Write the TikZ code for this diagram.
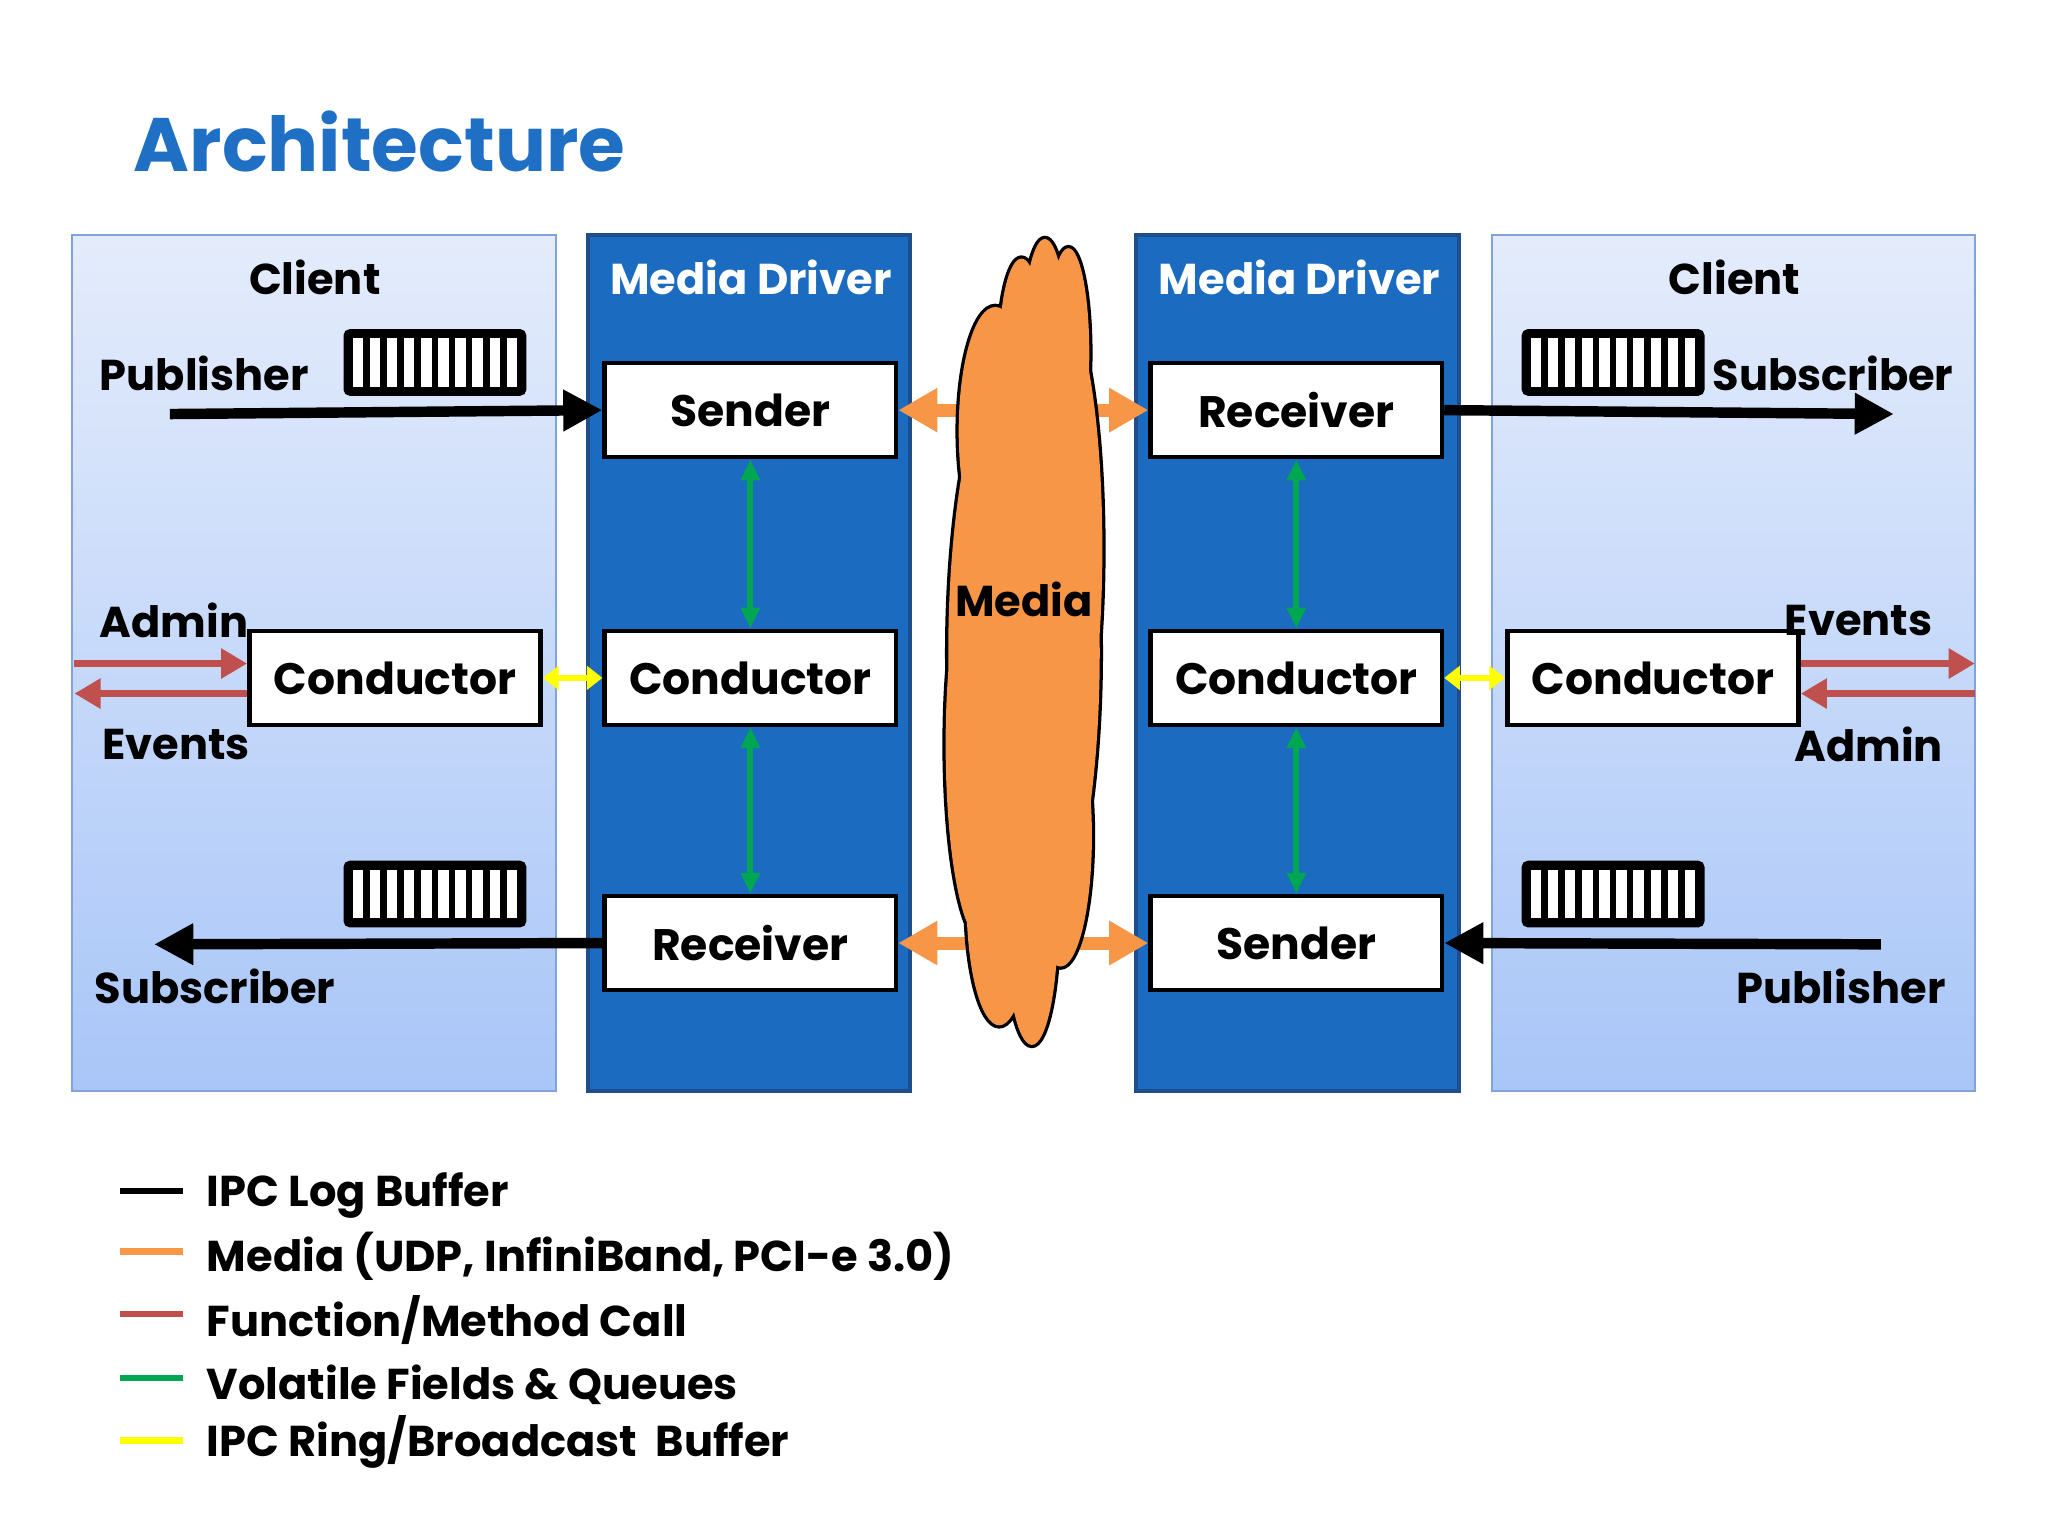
\documentclass[tikz,border=0pt]{standalone}
\usepackage{fontspec}
\setmainfont{Poppins}
\usetikzlibrary{arrows.meta}
\definecolor{ttl}{HTML}{1F6FC5}
\definecolor{drv}{HTML}{1B6CC0}
\definecolor{drvb}{HTML}{1F4E8A}
\definecolor{clt}{HTML}{E4ECFB}
\definecolor{clb}{HTML}{A9C6F8}
\definecolor{clbd}{HTML}{7FA3DA}
\definecolor{med}{HTML}{F79646}
\definecolor{fun}{HTML}{C0504D}
\definecolor{vol}{HTML}{00A651}
\definecolor{ipc}{HTML}{FFFF00}
\begin{document}
\begin{tikzpicture}[x=0.1mm,y=-0.1mm,
  comp/.style={draw=black,line width=0.35mm,fill=white,minimum width=22.3mm,minimum height=7.2mm,inner sep=0pt,font=\fontsize{9.6}{12}\selectfont\bfseries},
  lbl/.style={font=\fontsize{9.4}{12}\selectfont\bfseries},
  logb/.style={line width=0.8mm,-{Triangle[length=3mm,width=3mm]}},
  fcall/.style={fun,line width=0.55mm,-{Triangle[length=2mm,width=2.2mm]}},
  volf/.style={vol,line width=0.45mm,{Triangle[length=1.6mm,width=1.4mm]}-{Triangle[length=1.6mm,width=1.4mm]}},
  ring/.style={ipc,line width=0.5mm,{Triangle[length=1.2mm,width=1.8mm]}-{Triangle[length=1.2mm,width=1.8mm]}},
  media/.style={med,line width=1mm,{Triangle[length=3mm,width=3.2mm]}-{Triangle[length=3mm,width=3.2mm]}},
  leg/.style={line width=0.5mm}]
\useasboundingbox (0,0) rectangle (1568,1176);
% title
\node[anchor=west,text=ttl,font=\fontsize{16.5}{20}\selectfont\bfseries] (title) at (90,108) {Architecture};
% panels
\shade[top color=clt,bottom color=clb,draw=clbd] (55,180) rectangle (426,835);
\shade[top color=clt,bottom color=clb,draw=clbd] (1142,180) rectangle (1512,835);
\draw[fill=drv,draw=drvb,line width=0.3mm] (450,180) rectangle (697,835);
\draw[fill=drv,draw=drvb,line width=0.3mm] (870,180) rectangle (1117,835);
\node[lbl] (c1) at (241,212) {Client};
\node[lbl] (c2) at (1328,212) {Client};
\node[lbl,text=white] (d1) at (575,212) {Media Driver};
\node[lbl,text=white] (d2) at (995,212) {Media Driver};
% components
\node[comp] (ls) at (574.5,314) {Sender};
\node[comp] (lc) at (574.5,519) {Conductor};
\node[comp] (lr) at (574.5,722) {Receiver};
\node[comp] (rr) at (992.5,314) {Receiver};
\node[comp] (rc) at (992.5,519) {Conductor};
\node[comp] (rs) at (992.5,722) {Sender};
\node[comp] (cc1) at (302.5,519) {Conductor};
\node[comp] (cc2) at (1265.5,519) {Conductor};
% buffers
\foreach \bx/\by in {265/254,265/661,1167/254,1167/661}{
  \draw[line width=0.4mm,rounded corners=0.3mm,fill=black] (\bx,\by) rectangle ++(136,47);
  \foreach \i in {0,...,9}
    \fill[white] (\bx+5+\i*13.1,\by+5) rectangle ++(8,37);
}
% media links behind cloud
\draw[media] (ls.east) -- (rr.west);
\draw[media] (lr.east) -- (rs.west);
% cloud: union of lobes
\def\lobes{
  (784,500) ellipse [x radius=58,y radius=240]
  (762,330) ellipse [x radius=28,y radius=95]
  (782,270) ellipse [x radius=17,y radius=72]
  (800,255) ellipse [x radius=16,y radius=72]
  (818,270) ellipse [x radius=16,y radius=80]
  (810,420) ellipse [x radius=34,y radius=190]
  (752,570) ellipse [x radius=28,y radius=150]
  (765,690) ellipse [x radius=25,y radius=95]
  (790,705) ellipse [x radius=20,y radius=95]
  (812,640) ellipse [x radius=24,y radius=100]
}
\draw[black,line width=0.5mm] \lobes;
\fill[med] \lobes;
\node[lbl] (medl) at (784,459) {Media};
% IPC log buffers
\coordinate (p1) at (130,317);
\coordinate (s1) at (1450,317);
\coordinate (s2) at (118,723);
\coordinate (p2) at (1440,723);
\draw[logb] (p1) -- (ls.west);
\draw[logb] (rr.east) -- (s1);
\draw[logb] (lr.west) -- (s2);
\draw[logb] (p2) -- (rs.east);
% volatile fields
\draw[volf] (ls) -- (lc);
\draw[volf] (lc) -- (lr);
\draw[volf] (rr) -- (rc);
\draw[volf] (rc) -- (rs);
% ring buffers
\draw[ring] (cc1) -- (lc);
\draw[ring] (rc) -- (cc2);
% function calls
\coordinate (a1) at (57,508);
\coordinate (e1) at (57,531);
\coordinate (e2) at (1512,508);
\coordinate (a2) at (1512,531);
\draw[fcall] (a1) -- (a1 -| cc1.west);
\draw[fcall] (e1 -| cc1.west) -- (e1);
\draw[fcall] (e2 -| cc2.east) -- (e2);
\draw[fcall] (a2) -- (a2 -| cc2.east);
% labels
\node[lbl,anchor=west] (pub1) at (64,286) {Publisher};
\node[lbl,anchor=east] (sub1) at (1508,286) {Subscriber};
\node[lbl,anchor=west] (adm1) at (64,475) {Admin};
\node[lbl,anchor=west] (ev1) at (66,570) {Events};
\node[lbl,anchor=west] (sub2) at (60,755) {Subscriber};
\node[lbl,anchor=east] (pub2) at (1502,755) {Publisher};
\node[lbl,anchor=east] (ev2) at (1492,475) {Events};
\node[lbl,anchor=east] (adm2) at (1500,570) {Admin};
% legend
\draw[leg,black] (92,912) -- (140,912);
\draw[leg,med] (92,958) -- (140,958);
\draw[leg,fun] (92,1006) -- (140,1006);
\draw[leg,vol] (92,1055) -- (140,1055);
\draw[leg,ipc] (92,1103) -- (140,1103);
\node[lbl,anchor=west] (l1) at (146,915) {IPC Log Buffer};
\node[lbl,anchor=west] (l2) at (146,962) {Media (UDP, InfiniBand, PCI-e 3.0)};
\node[lbl,anchor=west] (l3) at (146,1011) {Function/Method Call};
\node[lbl,anchor=west] (l4) at (146,1060) {Volatile Fields \& Queues};
\node[lbl,anchor=west] (l5) at (146,1104) {IPC Ring/Broadcast\ \ Buffer};
\end{tikzpicture}
\end{document}
